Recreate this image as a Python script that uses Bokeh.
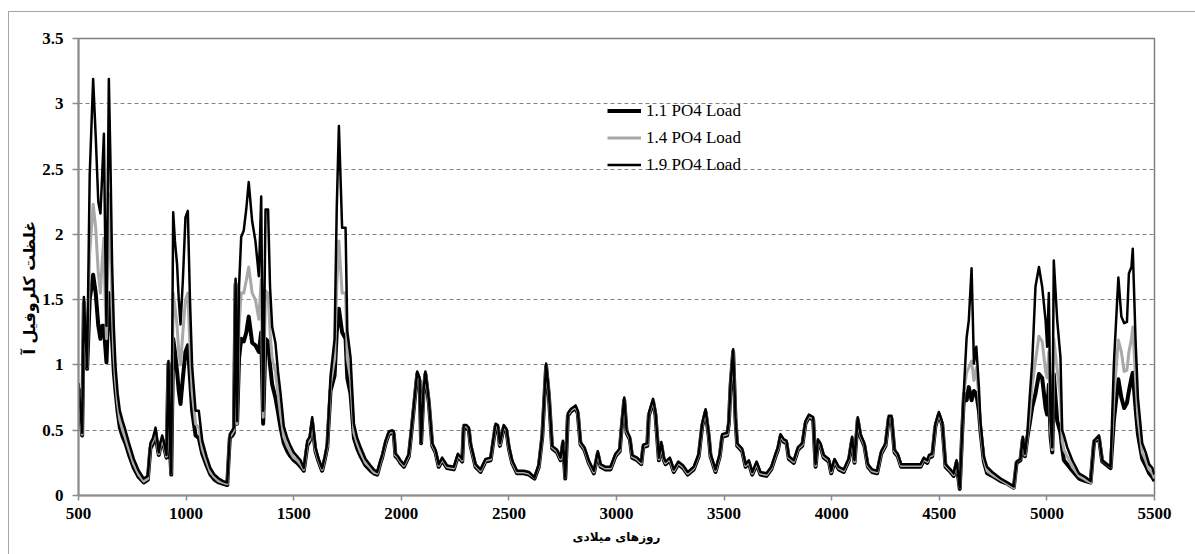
from bokeh.plotting import figure
from bokeh.models import Range1d, Legend, LegendItem, Title, FixedTicker
from bokeh.embed import file_html
from bokeh.resources import INLINE

# ---------------- data ----------------
days = [
    500, 517, 525, 540, 552, 568, 580, 592, 602, 610, 618, 624, 630, 641, 648, 656, 664, 672,
    682, 692, 705, 718, 735, 757, 780, 803, 822, 834, 846, 858, 866, 873, 880, 889, 898, 909, 918, 925, 931,
    940, 948, 958, 966, 974, 985, 997, 1008, 1018, 1028, 1044, 1059, 1075, 1095, 1113, 1132, 1152, 1172, 1191,
    1203, 1215, 1222, 1230, 1237, 1246, 1256, 1268, 1280, 1291, 1307, 1322, 1338, 1349, 1358,
    1369, 1381, 1390, 1400, 1415, 1427, 1439, 1454, 1470, 1485, 1500, 1516, 1532, 1547,
    1563, 1575, 1586, 1601, 1616, 1632, 1645, 1656, 1671, 1690, 1700, 1710, 1725, 1741, 1749, 1764,
    1780, 1795, 1811, 1834, 1857, 1872, 1888, 1903, 1911, 1927, 1942, 1958, 1965, 1973, 1985, 1996,
    2012, 2035, 2051, 2074, 2085, 2092, 2103, 2112, 2128, 2144, 2159, 2174, 2190, 2213, 2244, 2263, 2283, 2290, 2303, 2314, 2322,
    2345, 2368, 2391, 2415, 2438, 2449, 2458, 2476, 2489, 2500, 2515, 2538, 2569, 2593, 2619, 2639, 2655,
    2673, 2686, 2701, 2724, 2740, 2751, 2762, 2774, 2786, 2810, 2820, 2833, 2851, 2871, 2895, 2913, 2926,
    2949, 2972, 2995, 3015, 3023, 3036, 3047, 3062, 3073, 3096, 3115, 3124, 3143, 3150, 3170, 3181, 3192, 3197, 3208, 3220, 3228,
    3248, 3266, 3287, 3310, 3331, 3359, 3382, 3398, 3414, 3429, 3437, 3460, 3480, 3491, 3514, 3522, 3530, 3542, 3553, 3561,
    3584, 3600, 3615, 3631, 3651, 3669, 3697, 3719, 3739, 3750, 3762, 3778, 3790, 3801, 3824, 3843,
    3863, 3878, 3894, 3914, 3925, 3936, 3948, 3963, 3987, 3998, 4013, 4033, 4056, 4080, 4095, 4106, 4121, 4134,
    4152, 4168, 4188, 4211, 4230, 4250, 4265, 4278, 4292, 4307, 4323, 4351, 4382, 4413, 4428, 4444,
    4452, 4467, 4482, 4498, 4514, 4529, 4552, 4567, 4580, 4595, 4607,
    4615, 4627, 4637, 4650, 4661, 4672, 4684, 4691, 4707, 4722, 4746, 4785, 4816, 4846, 4859, 4877, 4888, 4898, 4909,
    4920, 4932, 4947, 4963, 4978, 4994, 5001, 5009, 5017, 5025, 5032, 5048, 5063, 5071,
    5079, 5094, 5118, 5149, 5180, 5203, 5219, 5242, 5257, 5280, 5296,
    5311, 5332, 5346, 5359, 5372, 5381, 5393, 5399, 5412, 5423, 5443, 5459, 5475, 5490, 5500,
]

load_1_9 = [
    0.86, 0.48, 1.52, 0.98, 2.45, 3.19, 2.75, 2.25, 2.16, 2.45, 2.77, 1.95, 1.30, 3.19, 2.60, 1.78, 1.30, 0.99,
    0.78, 0.65, 0.57, 0.50, 0.40, 0.28, 0.19, 0.13, 0.15, 0.40, 0.44, 0.52, 0.42, 0.33, 0.40, 0.46, 0.40, 0.31, 1.03, 0.40, 0.17,
    2.17, 1.95, 1.77, 1.50, 1.31, 1.65, 2.13, 2.18, 1.50, 0.99, 0.65, 0.65, 0.42, 0.30, 0.21, 0.16, 0.13, 0.11, 0.10,
    0.47, 0.50, 0.52, 1.66, 0.57, 1.60, 1.98, 2.03, 2.20, 2.40, 2.10, 1.95, 1.68, 2.29, 0.65,
    2.19, 2.19, 1.60, 1.29, 1.17, 0.95, 0.78, 0.53, 0.44, 0.38, 0.33, 0.30, 0.27, 0.21,
    0.42, 0.45, 0.60, 0.37, 0.28, 0.21, 0.30, 0.40, 0.91, 1.20, 2.20, 2.83, 2.05, 2.05, 1.26, 1.06,
    0.55, 0.44, 0.37, 0.28, 0.23, 0.20, 0.18, 0.27, 0.31, 0.42, 0.49, 0.50, 0.49, 0.32, 0.30, 0.27,
    0.24, 0.32, 0.57, 0.95, 0.90, 0.41, 0.80, 0.95, 0.73, 0.40, 0.35, 0.24, 0.29, 0.23, 0.22, 0.32, 0.28, 0.54, 0.54, 0.52, 0.40,
    0.24, 0.20, 0.28, 0.29, 0.55, 0.54, 0.40, 0.54, 0.51, 0.38, 0.27, 0.19, 0.19, 0.18, 0.14, 0.24, 0.47,
    1.01, 0.78, 0.38, 0.35, 0.29, 0.42, 0.14, 0.63, 0.66, 0.69, 0.65, 0.41, 0.37, 0.27, 0.19, 0.34, 0.24,
    0.22, 0.22, 0.32, 0.36, 0.52, 0.75, 0.50, 0.45, 0.31, 0.29, 0.26, 0.39, 0.40, 0.63, 0.74, 0.64, 0.40, 0.29, 0.41, 0.29, 0.26,
    0.29, 0.20, 0.26, 0.23, 0.18, 0.22, 0.32, 0.55, 0.66, 0.47, 0.32, 0.20, 0.32, 0.47, 0.48, 0.57, 0.86, 1.12, 0.60, 0.40,
    0.36, 0.24, 0.27, 0.18, 0.26, 0.18, 0.17, 0.22, 0.32, 0.37, 0.47, 0.43, 0.42, 0.30, 0.27, 0.37,
    0.40, 0.57, 0.62, 0.60, 0.24, 0.43, 0.40, 0.31, 0.28, 0.19, 0.28, 0.22, 0.20, 0.29, 0.45, 0.27, 0.60, 0.47,
    0.40, 0.24, 0.20, 0.19, 0.34, 0.40, 0.61, 0.61, 0.35, 0.32, 0.24, 0.24, 0.24, 0.24, 0.29, 0.27,
    0.31, 0.32, 0.55, 0.64, 0.56, 0.24, 0.20, 0.17, 0.27, 0.06, 0.53,
    0.83, 1.21, 1.34, 1.74, 1.01, 1.14, 0.83, 0.57, 0.30, 0.22, 0.18, 0.13, 0.10, 0.07, 0.26, 0.28, 0.45, 0.32, 0.47,
    0.75, 1.03, 1.60, 1.75, 1.60, 1.34, 1.14, 1.55, 0.57, 0.37, 1.80, 1.34, 1.06, 0.50,
    0.46, 0.37, 0.27, 0.17, 0.14, 0.11, 0.42, 0.46, 0.27, 0.24, 0.22,
    1.00, 1.67, 1.37, 1.32, 1.33, 1.70, 1.75, 1.89, 1.19, 0.75, 0.40, 0.33, 0.24, 0.21, 0.16,
]

load_1_4 = [
    0.84, 0.47, 1.50, 0.98, 1.85, 2.23, 2.05, 1.70, 1.55, 1.80, 1.97, 1.50, 1.20, 2.31, 1.95, 1.45, 1.10, 0.88,
    0.70, 0.58, 0.50, 0.44, 0.35, 0.24, 0.16, 0.11, 0.13, 0.38, 0.42, 0.50, 0.40, 0.32, 0.38, 0.44, 0.38, 0.30, 1.02, 0.38, 0.17,
    1.55, 1.45, 1.30, 1.10, 1.00, 1.25, 1.50, 1.55, 1.15, 0.80, 0.55, 0.52, 0.36, 0.26, 0.18, 0.14, 0.11, 0.10, 0.09,
    0.45, 0.48, 0.50, 1.64, 0.55, 1.30, 1.55, 1.55, 1.65, 1.75, 1.55, 1.50, 1.35, 1.65, 0.60,
    1.57, 1.55, 1.25, 1.05, 0.95, 0.78, 0.62, 0.45, 0.38, 0.33, 0.29, 0.27, 0.24, 0.20,
    0.40, 0.43, 0.58, 0.35, 0.27, 0.20, 0.29, 0.38, 0.85, 1.05, 1.60, 1.95, 1.55, 1.55, 1.05, 0.90,
    0.48, 0.40, 0.33, 0.25, 0.21, 0.18, 0.17, 0.26, 0.30, 0.41, 0.48, 0.49, 0.48, 0.31, 0.29, 0.26,
    0.23, 0.31, 0.56, 0.94, 0.89, 0.41, 0.79, 0.94, 0.72, 0.39, 0.34, 0.23, 0.28, 0.22, 0.21, 0.31, 0.27, 0.53, 0.53, 0.51, 0.39,
    0.23, 0.19, 0.27, 0.28, 0.54, 0.53, 0.39, 0.53, 0.50, 0.37, 0.26, 0.18, 0.18, 0.17, 0.14, 0.23, 0.46,
    1.00, 0.77, 0.37, 0.34, 0.28, 0.41, 0.14, 0.62, 0.65, 0.68, 0.64, 0.40, 0.36, 0.26, 0.18, 0.33, 0.23,
    0.21, 0.21, 0.31, 0.35, 0.51, 0.74, 0.49, 0.44, 0.30, 0.28, 0.25, 0.38, 0.39, 0.62, 0.73, 0.63, 0.39, 0.28, 0.40, 0.28, 0.25,
    0.28, 0.19, 0.25, 0.22, 0.17, 0.21, 0.31, 0.54, 0.65, 0.46, 0.31, 0.19, 0.31, 0.46, 0.47, 0.56, 0.85, 1.11, 0.59, 0.39,
    0.35, 0.23, 0.26, 0.17, 0.25, 0.17, 0.16, 0.21, 0.31, 0.36, 0.46, 0.42, 0.41, 0.29, 0.26, 0.36,
    0.39, 0.56, 0.61, 0.59, 0.23, 0.42, 0.39, 0.30, 0.27, 0.18, 0.27, 0.21, 0.19, 0.28, 0.44, 0.26, 0.59, 0.46,
    0.39, 0.23, 0.19, 0.18, 0.33, 0.39, 0.60, 0.60, 0.34, 0.31, 0.23, 0.23, 0.23, 0.23, 0.28, 0.26,
    0.30, 0.31, 0.54, 0.63, 0.55, 0.23, 0.19, 0.16, 0.26, 0.06, 0.52,
    0.80, 0.94, 0.98, 1.03, 0.88, 0.98, 0.75, 0.53, 0.28, 0.19, 0.16, 0.12, 0.09, 0.06, 0.26, 0.28, 0.44, 0.31, 0.45,
    0.62, 0.85, 1.03, 1.22, 1.18, 0.95, 0.90, 1.10, 0.50, 0.35, 1.20, 0.96, 0.75, 0.42,
    0.35, 0.30, 0.22, 0.15, 0.12, 0.10, 0.42, 0.45, 0.27, 0.24, 0.22,
    0.75, 1.19, 1.10, 0.95, 0.96, 1.10, 1.20, 1.29, 0.90, 0.60, 0.33, 0.27, 0.20, 0.17, 0.13,
]

load_1_1 = [
    0.82, 0.46, 1.48, 0.97, 1.50, 1.69, 1.55, 1.30, 1.20, 1.30, 1.30, 1.15, 1.02, 1.55, 1.45, 1.20, 0.95, 0.80,
    0.64, 0.52, 0.45, 0.40, 0.31, 0.21, 0.14, 0.10, 0.12, 0.36, 0.40, 0.48, 0.38, 0.31, 0.37, 0.43, 0.37, 0.29, 1.01, 0.36, 0.16,
    1.20, 1.10, 0.95, 0.80, 0.70, 0.90, 1.10, 1.15, 0.90, 0.65, 0.46, 0.44, 0.32, 0.23, 0.16, 0.12, 0.10, 0.09, 0.08,
    0.44, 0.46, 0.48, 1.62, 0.55, 1.05, 1.20, 1.18, 1.25, 1.37, 1.17, 1.15, 1.10, 1.25, 0.55,
    1.20, 1.18, 1.00, 0.85, 0.75, 0.64, 0.52, 0.40, 0.34, 0.30, 0.27, 0.25, 0.22, 0.19,
    0.38, 0.42, 0.56, 0.34, 0.26, 0.19, 0.28, 0.37, 0.80, 0.92, 1.25, 1.43, 1.25, 1.20, 0.90, 0.78,
    0.44, 0.36, 0.30, 0.23, 0.19, 0.17, 0.16, 0.25, 0.29, 0.40, 0.47, 0.48, 0.47, 0.30, 0.28, 0.25,
    0.22, 0.30, 0.55, 0.93, 0.88, 0.40, 0.78, 0.93, 0.71, 0.38, 0.33, 0.22, 0.27, 0.21, 0.20, 0.30, 0.26, 0.52, 0.52, 0.50, 0.38,
    0.22, 0.18, 0.26, 0.27, 0.53, 0.52, 0.38, 0.52, 0.49, 0.36, 0.25, 0.17, 0.17, 0.16, 0.13, 0.22, 0.45,
    0.99, 0.76, 0.36, 0.33, 0.27, 0.40, 0.13, 0.61, 0.64, 0.67, 0.63, 0.39, 0.35, 0.25, 0.17, 0.32, 0.22,
    0.20, 0.20, 0.30, 0.34, 0.50, 0.73, 0.48, 0.43, 0.29, 0.27, 0.24, 0.37, 0.38, 0.61, 0.72, 0.62, 0.38, 0.27, 0.39, 0.27, 0.24,
    0.27, 0.18, 0.24, 0.21, 0.16, 0.20, 0.30, 0.53, 0.64, 0.45, 0.30, 0.18, 0.30, 0.45, 0.46, 0.55, 0.84, 1.10, 0.58, 0.38,
    0.34, 0.22, 0.25, 0.16, 0.24, 0.16, 0.15, 0.20, 0.30, 0.35, 0.45, 0.41, 0.40, 0.28, 0.25, 0.35,
    0.38, 0.55, 0.60, 0.58, 0.22, 0.41, 0.38, 0.29, 0.26, 0.17, 0.26, 0.20, 0.18, 0.27, 0.43, 0.25, 0.58, 0.45,
    0.38, 0.22, 0.18, 0.17, 0.32, 0.38, 0.59, 0.59, 0.33, 0.30, 0.22, 0.22, 0.22, 0.22, 0.27, 0.25,
    0.29, 0.30, 0.53, 0.62, 0.54, 0.22, 0.18, 0.15, 0.25, 0.05, 0.51,
    0.78, 0.73, 0.83, 0.73, 0.80, 0.78, 0.65, 0.50, 0.26, 0.17, 0.15, 0.11, 0.09, 0.06, 0.25, 0.27, 0.43, 0.30, 0.44,
    0.55, 0.68, 0.78, 0.93, 0.90, 0.67, 0.62, 0.85, 0.45, 0.33, 0.93, 0.57, 0.48, 0.36,
    0.27, 0.24, 0.19, 0.13, 0.11, 0.10, 0.41, 0.44, 0.26, 0.23, 0.21,
    0.57, 0.89, 0.75, 0.67, 0.71, 0.80, 0.90, 0.94, 0.67, 0.47, 0.28, 0.23, 0.17, 0.14, 0.11,
]

series_names = ["1.1 PO4 Load", "1.4 PO4 Load", "1.9 PO4 Load"]
x_ticks = [500, 1000, 1500, 2000, 2500, 3000, 3500, 4000, 4500, 5000, 5500]
y_ticks = [0, 0.5, 1, 1.5, 2, 2.5, 3, 3.5]
y_tick_labels = ["0", "0.5", "1", "1.5", "2", "2.5", "3", "3.5"]
x_title = "روزهای میلادی"
y_title = "غلظت کلروفیل آ"

assert len(days) == len(load_1_9) == len(load_1_4) == len(load_1_1), (
    len(days), len(load_1_9), len(load_1_4), len(load_1_1))

# ---------------- figure ----------------
border_bg = ("linear-gradient(#a6a6a6, #a6a6a6) 8px 11px / 100% 1px no-repeat, "
             "linear-gradient(#a6a6a6, #a6a6a6) 8px 11px / 1px 100% no-repeat, #ffffff")

p = figure(width=1195, height=554,
           x_range=Range1d(500, 5500), y_range=Range1d(0, 3.5),
           output_backend="svg", toolbar_location=None,
           min_border_left=78, min_border_right=41,
           min_border_top=38, min_border_bottom=59,
           styles={"background": border_bg})
p.border_fill_alpha = 0
p.background_fill_color = "white"
p.outline_line_color = "#7f7f7f"
p.outline_line_width = 1.5

p.xgrid.grid_line_color = None
p.ygrid.grid_line_color = "#808080"
p.ygrid.grid_line_dash = "4 3"
p.ygrid.grid_line_width = 1
p.ygrid.ticker = FixedTicker(ticks=y_ticks)

for ax in (p.xaxis[0], p.yaxis[0]):
    ax.axis_line_color = "#8c8c8c"
    ax.axis_line_width = 2
    ax.major_tick_line_color = "#8c8c8c"
    ax.major_tick_line_width = 1.5
    ax.minor_tick_line_color = None
    ax.major_tick_in = 0
    ax.major_label_text_font = "Liberation Serif"
    ax.major_label_text_font_style = "bold"
    ax.major_label_text_font_size = "17px"
    ax.major_label_text_color = "black"

p.xaxis.ticker = FixedTicker(ticks=x_ticks)
p.xaxis.major_tick_out = 5
p.xaxis.major_label_standoff = 7
p.xaxis.axis_label = x_title
p.xaxis.axis_label_text_font = "DejaVu Sans"
p.xaxis.axis_label_text_font_style = "bold"
p.xaxis.axis_label_text_font_size = "12px"
p.xaxis.axis_label_text_color = "black"
p.xaxis.axis_label_standoff = 8

p.yaxis.ticker = FixedTicker(ticks=y_ticks)
p.yaxis.major_label_overrides = {t: s for t, s in zip(y_ticks, y_tick_labels)}
p.yaxis.major_tick_out = 6
p.yaxis.major_label_standoff = 9

# y title as a side title, its lower end lifted from the frame bottom
p.add_layout(Title(text=y_title, align="left", offset=141, standoff=2,
                   text_font="DejaVu Sans", text_font_style="bold",
                   text_font_size="16px", text_color="black"), "left")

# ---------------- series ----------------
r11 = p.line(days, load_1_1, line_color="black", line_width=4, line_join="round")
r14 = p.line(days, load_1_4, line_color="#a8a8a8", line_width=3, line_join="round")
r19 = p.line(days, load_1_9, line_color="black", line_width=2.5, line_join="round")

legend = Legend(items=[LegendItem(label=series_names[0], renderers=[r11]),
                       LegendItem(label=series_names[1], renderers=[r14]),
                       LegendItem(label=series_names[2], renderers=[r19])],
                location=(529, 317),
                glyph_width=34, glyph_height=27, label_height=27,
                label_standoff=5, spacing=0, padding=0, margin=0,
                background_fill_alpha=0, border_line_alpha=0,
                label_text_font="Liberation Serif", label_text_font_size="17px",
                label_text_color="black")
p.add_layout(legend)

open("out.html", "w").write(file_html(p, INLINE))
